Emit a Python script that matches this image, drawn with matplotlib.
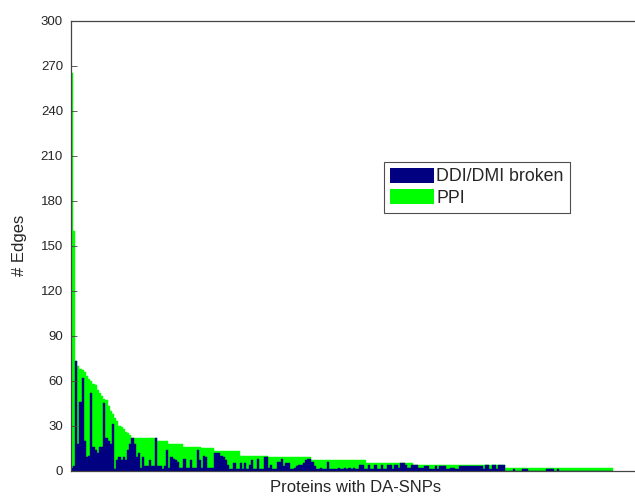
import numpy as np
import matplotlib
matplotlib.use("Agg")
import matplotlib.pyplot as plt
from matplotlib.patches import Patch

plt.rcParams['font.family'] = ['Liberation Sans', 'DejaVu Sans']

# PPI edges per protein (sorted descending)
ppi = [
    265, 160, 73, 70, 68, 67, 66, 63, 61, 60,
    58, 57, 54, 52, 50, 48, 47, 43, 40, 38,
    35, 33, 30, 29, 28, 26, 25, 24, 22, 22,
    22, 22, 22, 22, 22, 22, 22, 22, 22, 22,
    20, 20, 20, 20, 20, 18, 18, 18, 18, 18,
    18, 18, 16, 16, 16, 16, 16, 16, 16, 16,
    15, 15, 15, 15, 15, 15, 13, 13, 13, 13,
    13, 13, 13, 13, 13, 13, 13, 13, 10, 10,
    10, 10, 10, 10, 10, 10, 10, 10, 10, 10,
    10, 9, 9, 9, 9, 9, 9, 9, 9, 9,
    9, 9, 9, 9, 9, 9, 9, 9, 9, 9,
    9, 7, 7, 7, 7, 7, 7, 7, 7, 7,
    7, 7, 7, 7, 7, 7, 7, 7, 7, 7,
    7, 7, 7, 7, 7, 7, 5, 5, 5, 5,
    5, 5, 5, 5, 5, 5, 5, 5, 5, 5,
    5, 5, 5, 5, 5, 5, 5, 5, 4, 4,
    4, 4, 4, 4, 4, 4, 4, 4, 4, 4,
    4, 4, 4, 4, 4, 4, 4, 4, 4, 4,
    4, 4, 4, 4, 4, 4, 4, 4, 4, 4,
    4, 4, 4, 4, 4, 4, 4, 4, 4, 4,
    2, 2, 2, 2, 2, 2, 2, 2, 2, 2,
    2, 2, 2, 2, 2, 2, 2, 2, 2, 2,
    2, 2, 2, 2, 2, 2, 2, 2, 2, 2,
    2, 2, 2, 2, 2, 2, 2, 2, 2, 2,
    2, 2, 2, 2, 2, 2, 2, 2, 2, 2,
]

# DDI/DMI broken edges per protein (same order)
ddi = [
    2, 3, 73, 18, 46, 62, 20, 9, 10, 52,
    16, 14, 12, 16, 16, 45, 22, 20, 18, 31,
    1, 7, 9, 7, 9, 7, 14, 18, 22, 18,
    9, 12, 2, 9, 3, 3, 7, 3, 3, 22,
    3, 3, 1, 3, 14, 2, 9, 8, 7, 6,
    2, 2, 8, 2, 2, 7, 2, 2, 14, 7,
    2, 10, 9, 2, 2, 2, 12, 12, 12, 10,
    9, 7, 4, 1, 1, 5, 1, 1, 5, 1,
    5, 1, 4, 7, 1, 1, 8, 1, 1, 9,
    9, 2, 4, 1, 1, 6, 6, 8, 3, 5,
    5, 1, 1, 2, 3, 4, 4, 5, 7, 8,
    8, 6, 3, 1, 1, 2, 1, 1, 6, 1,
    1, 1, 1, 2, 1, 1, 2, 1, 2, 1,
    2, 1, 1, 4, 4, 1, 1, 4, 1, 1,
    4, 1, 1, 4, 1, 1, 4, 4, 1, 4,
    4, 2, 5, 5, 4, 2, 2, 4, 4, 4,
    2, 2, 2, 3, 3, 1, 1, 1, 3, 1,
    3, 3, 3, 1, 1, 2, 2, 1, 1, 3,
    3, 3, 3, 3, 3, 3, 3, 3, 3, 3,
    1, 4, 4, 1, 4, 4, 1, 4, 4, 4,
    0, 0, 0, 0, 1, 0, 0, 0, 1, 1,
    1, 0, 0, 0, 0, 0, 0, 0, 0, 1,
    1, 1, 1, 0, 1, 0, 0, 0, 0, 0,
    0, 0, 0, 0, 0, 0, 0, 0, 0, 0,
    0, 0, 0, 0, 0, 0, 0, 0, 0, 0,
]

y_ticks = [0, 30, 60, 90, 120, 150, 180, 210, 240, 270, 300]

green = '#00ff00'
navy = '#000080'
txt = '#262626'

W, H = 635, 497
fig = plt.figure(figsize=(W / 100, H / 100), dpi=100)
ax_l, ax_r, ax_t, ax_b = 70.7, 640.0, 20.7, 470.7
ax = fig.add_axes([ax_l / W, 1 - ax_b / H, (ax_r - ax_l) / W, (ax_b - ax_t) / H])

x = np.arange(len(ppi))
ax.bar(x, ppi, width=1.0, color=green, edgecolor=green, linewidth=0.3, label='PPI')
ax.bar(x, ddi, width=1.0, color=navy, edgecolor=navy, linewidth=0.3, label='DDI/DMI broken')

n = len(ppi)
data_right_px = 613.0
ax.set_xlim(-0.5, -0.5 + n * (ax_r - ax_l) / (data_right_px - ax_l))
ax.set_ylim(0, 300)
ax.set_yticks(y_ticks)
ax.set_xticks([])
ax.tick_params(axis='y', direction='in', length=4, width=0.6, colors='#444444',
               labelcolor=txt, labelsize=9.5, pad=5.5)
for s in ax.spines.values():
    s.set_color('#444444')
    s.set_linewidth(0.9)

ax.set_ylabel('# Edges', fontsize=12, color=txt)
ax.yaxis.set_label_coords(-(ax_l - 27) / (ax_r - ax_l), 0.5)
ax.set_xlabel('Proteins with DA-SNPs', fontsize=12, color=txt)
ax.xaxis.set_label_coords(0.5, -(479.5 - ax_b) / (ax_b - ax_t))

handles = [Patch(facecolor=navy, edgecolor='none'), Patch(facecolor=green, edgecolor='none')]
leg = fig.legend(handles, ['DDI/DMI broken', 'PPI'], loc='upper left',
                 bbox_to_anchor=(384 / W, 1 - 162 / H), fontsize=12.8,
                 frameon=True, fancybox=False, shadow=False,
                 handlelength=2.5, handleheight=0.9, handletextpad=0.12,
                 labelspacing=0.22, borderpad=0.33, borderaxespad=0.0)
leg.get_frame().set_edgecolor('#222222')
leg.get_frame().set_linewidth(0.8)
for t in leg.get_texts():
    t.set_color(txt)

fig.savefig('out.png', dpi=100)
